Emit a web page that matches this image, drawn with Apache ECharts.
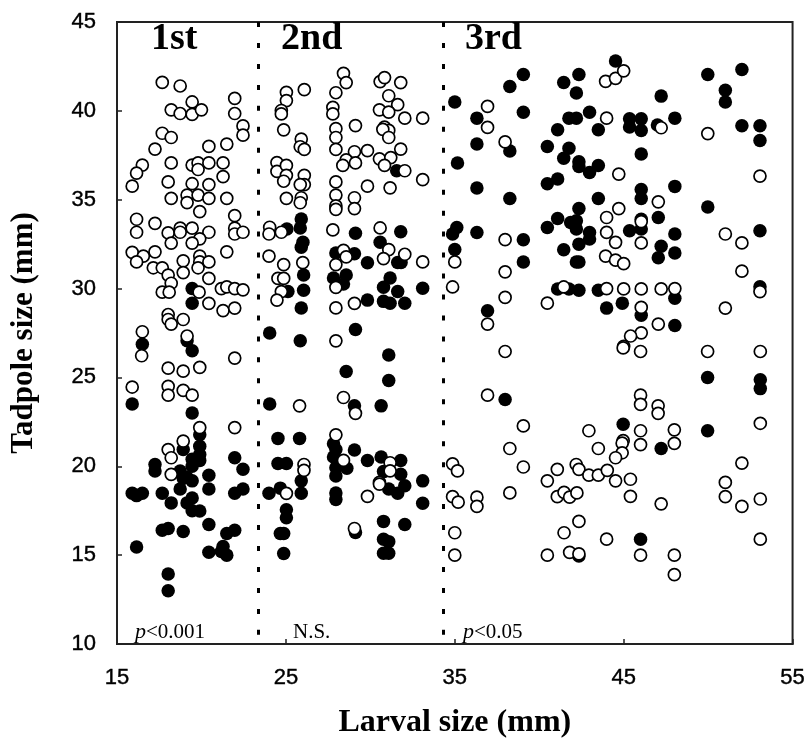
<!DOCTYPE html>
<html><head><meta charset="utf-8">
<style>html,body{margin:0;padding:0;background:#fff}#c{width:808px;height:744px}</style>
<script src="https://cdn.jsdelivr.net/npm/echarts@6/dist/echarts.min.js"></script>
</head><body><div id="c"></div>
<script>
const xTicks = [15,25,35,45,55];
const yTicks = [10,15,20,25,30,35,40,45];
const stageBoundaries = [23.39, 34.3];
const stageNames = ['1st','2nd','3rd'];
const pValues = ['<0.001','N.S.','<0.05'];

const openFirst = [[17.68,41.6],[18.74,41.4],[19.45,40.5],[21.97,40.7],[18.21,40.06],[18.74,39.85],[19.45,39.8],[20,40.06],[21.97,39.85],[22.46,39.15],[22.46,38.63],[17.68,38.74],[18.21,38.5],[17.25,37.85],[20.44,38],[21.5,38.13],[16.5,36.95],[16.16,36.5],[15.9,35.76],[18.21,37.07],[19.45,36.95],[19.8,37.07],[20.44,37.07],[21.28,37.07],[19.8,36.7],[21.28,36.3],[18.03,36],[19.45,35.9],[20.44,35.85],[18.21,35.08],[19.15,35.26],[19.15,34.84],[19.8,35.26],[20.44,35.08],[21.5,35.08],[19.9,34.33],[21.97,34.1],[16.16,33.9],[16.16,33.17],[17.25,33.67],[18.03,33.13],[18.74,33.4],[18.74,33.17],[19.45,33.4],[20.44,33.17],[21.97,33.4],[21.97,33.07],[22.46,33.17],[18.21,32.56],[19.9,32.8],[19.45,32.56],[15.9,32.04],[16.56,31.83],[16.16,31.5],[17.25,32.07],[21.5,32.07],[19.9,31.83],[19.9,31.5],[20.44,31.5],[19.8,31.17],[18.92,31.56],[18.92,30.9],[17.15,31.17],[17.68,31.17],[18.03,30.76],[18.21,30.3],[20.44,30.57],[17.68,29.8],[18.09,29.8],[19.86,29.8],[21.18,30],[21.5,30.1],[21.97,30],[22.46,29.93],[20.44,29.17],[21.28,28.76],[21.97,28.9],[18.03,28.54],[18.03,28.26],[18.21,28],[18.92,28.26],[16.5,27.57],[19.15,27.33],[16.46,26.22],[21.97,26.09],[18.03,25.52],[18.92,25.35],[19.9,25.57],[15.9,24.46],[18.03,24.5],[18.03,24],[18.92,24.27],[19.45,24],[19.9,22.18],[21.97,22.18],[18.92,21.42],[18.03,20.94],[18.21,20.48],[18.21,19.55]];
const filledFirst = [[19.45,30],[19.45,29.17],[16.5,26.87],[19.15,27.06],[19.45,26.5],[15.9,23.5],[19.45,23],[19.9,21.77],[18.92,20.94],[19.9,21.13],[19.45,20.39],[19.9,20.33],[19.45,20],[19.9,20.66],[21.97,20.48],[22.46,19.83],[17.25,20.1],[17.25,19.74],[18.74,19.74],[18.92,19.33],[19.45,19.18],[18.74,18.72],[19.15,19.37],[20.44,19.5],[20.44,18.72],[15.9,18.48],[16.16,18.35],[16.5,18.48],[17.68,18.48],[21.97,18.48],[22.46,18.72],[18.21,17.94],[19.45,18.22],[19.15,17.94],[19.45,17.5],[19.9,17.48],[20.44,16.72],[17.68,16.4],[18.03,16.5],[18.92,16.33],[21.5,16.22],[21.97,16.4],[16.16,15.46],[20.44,15.16],[21.28,15.48],[21.5,15],[21.18,15.2],[18.03,13.94],[18.03,13]];
const openSecond = [[25.03,41.04],[25.03,40.58],[26.09,41.19],[24.73,40.02],[24.73,39.83],[24.87,38.93],[25.91,38.41],[25.85,37.98],[26.09,37.83],[24.47,37.09],[24.47,36.59],[25.03,36.93],[25.03,36.37],[24.87,36.04],[26.09,36.37],[26.09,35.85],[25.85,35.85],[25.03,35.08],[25.91,35.11],[25.85,34.83],[24.04,33.45],[24,33.07],[24.73,33.17],[24,31.83],[24.87,31.35],[26,31.46],[24.53,30.57],[24.87,30.57],[24.73,29.83],[24.47,29.35],[28.41,42.11],[28.57,41.59],[27.96,41.02],[27.78,40.2],[27.78,39.83],[29.12,39.17],[27.96,39],[27.96,38.5],[27.96,37.83],[29.06,37.7],[29.83,37.76],[28.57,37.24],[28.37,36.93],[29.12,37.07],[27.96,36],[29.83,35.76],[27.96,35.26],[27.96,34.65],[27.96,34.46],[29.06,35.11],[29.06,34.5],[27.78,33.3],[27.96,31.35],[28.41,32.15],[28.57,31.78],[27.96,30.07],[27.96,28.91],[29.06,29.17],[27.96,27.06],[30.58,41.65],[30.84,41.87],[31.8,41.59],[31.09,40.85],[31.62,40.35],[30.54,40.06],[31.09,39.93],[32.04,39.59],[33.1,39.59],[30.84,39.09],[31.09,38.9],[30.74,38.96],[31.09,38.5],[31.8,37.85],[30.54,37.3],[31.21,37.37],[30.84,36.93],[32.04,36.63],[33.1,36.13],[31.17,35.67],[30.58,33.41],[31.09,32.19],[30.78,31.69],[32.04,31.93],[33.1,31.5],[25.81,23.4],[28.41,23.87],[29.12,22.98],[27.96,21.77],[28.41,20.33],[26.07,20.1],[26.07,19.77],[25.03,18.48],[31.17,20.2],[31.17,19.74],[30.54,19.09],[30.54,19],[29.83,18.31],[29.06,16.5]];
const filledSecond = [[25.91,33.91],[25.85,33.41],[25.06,33.35],[26.01,32.61],[25.91,32.33],[29.12,33.11],[31.8,33.2],[30.58,32.61],[27.96,32],[29.06,31.96],[29.83,31.45],[31.62,31.47],[31.82,31.47],[26.05,30.76],[28.57,30.76],[27.82,30.6],[28.41,30.26],[31.17,30.6],[26.05,29.9],[25.12,29.83],[30.78,30.07],[31.62,29.83],[33.1,30.02],[29.83,29.35],[30.78,29.28],[31.17,29.17],[32.04,29.17],[25.91,28.91],[31.56,36.63],[24.04,27.5],[25.85,27.06],[29.12,27.7],[31.09,26.26],[28.57,25.33],[31.09,24.83],[24.04,23.5],[29.06,23.4],[30.64,23.4],[24.53,21.57],[25.81,21.57],[27.82,21.27],[29.06,20.92],[27.82,20.52],[27.96,20.94],[24.53,20.16],[25.03,20.16],[29.83,20.33],[30.64,20.52],[31.8,20.33],[27.96,19.92],[28.61,19.89],[27.96,19.46],[30.78,19.7],[31.8,19.55],[25.91,19.18],[33.1,19.18],[32.04,18.9],[24,18.48],[24.67,18.77],[25.91,18.48],[31.09,18.72],[31.62,18.48],[27.96,18.5],[27.96,18.13],[33.1,17.92],[25.03,17.55],[25.03,17.1],[30.78,16.9],[32.04,16.72],[24.67,16.22],[24.87,16.22],[29.12,16.27],[30.78,15.9],[31.09,15.76],[30.78,15.11],[31.09,15.11],[24.87,15.09]];
const openThird = [[36.94,40.25],[36.94,39.07],[37.98,38.25],[37.98,32.75],[35,31.5],[37.98,30.94],[34.87,30.09],[37.98,29.5],[36.94,28],[43.93,41.66],[44.52,41.83],[43.99,39.59],[44.71,36.44],[44.71,34.5],[43.99,34],[43.99,33.16],[44.52,32.6],[43.93,31.83],[44.52,31.6],[41.45,30.09],[43.99,30],[40.48,29.18],[45,42.25],[47.22,39.05],[49.98,38.72],[53.07,36.33],[47.05,34.88],[46.04,33.77],[46.04,32.57],[51.02,33.07],[52,32.57],[52,30.98],[45,31.4],[45,29.98],[46.04,29.98],[47.22,29.98],[48.03,30],[53.07,29.83],[46.04,28.94],[51.02,28.9],[47.05,28],[46.04,27.51],[45.41,27.33],[45,26.75],[37.98,26.46],[44.97,26.66],[46,26.46],[49.97,26.46],[53.09,26.46],[36.94,24],[46,24],[46,23.48],[47.04,23.4],[47.04,22.98],[39.06,22.27],[53.09,22.42],[42.94,22],[46,22],[48,22.05],[38.26,21],[43.5,21],[46,21.22],[48,21.29],[44.97,21.44],[44.91,21.3],[44.91,20.76],[44.52,20.48],[52,20.18],[34.87,20.14],[35.16,19.74],[39.06,19.96],[42.19,20.1],[42.35,19.83],[41.07,19.83],[42.94,19.5],[43.5,19.5],[44.03,19.77],[40.48,19.18],[44.52,19.18],[45.4,19.27],[51.02,19.09],[34.87,18.29],[35.2,17.98],[36.31,18.26],[36.31,17.74],[38.26,18.5],[41.07,18.29],[41.47,18.53],[41.8,18.26],[42.23,18.5],[45.4,18.31],[47.22,17.89],[51.02,18.29],[52,17.74],[53.09,18.16],[42.35,16.9],[41.47,16.26],[35,16.26],[43.99,15.9],[53.09,15.9],[35,15],[40.48,15],[41.8,15.16],[42.35,15.07],[46,15],[48,15],[48,13.9]];
const filledThird = [[35,40.5],[39.06,42.05],[38.26,41.37],[36.31,39.59],[39.06,39.92],[36.31,38.13],[38.26,37.74],[35.16,37.07],[36.31,35.66],[38.26,35.07],[35.12,33.44],[34.87,33.07],[36.31,33.16],[35,32.2],[39.06,32.75],[39.06,31.5],[36.94,28.75],[41.45,41.6],[42.35,42.05],[42.2,41],[44.52,42.8],[41.76,39.59],[42.2,39.59],[42.98,39.92],[41.09,38.94],[43.5,38.94],[40.48,38],[41.76,37.9],[41.45,37.33],[42.35,37.14],[42.35,36.87],[43.5,36.92],[42.98,36.53],[40.48,35.9],[41.09,36.16],[43.5,35.07],[42.35,34.5],[41.09,33.94],[40.48,33.44],[41.86,33.72],[42.2,33.81],[42.2,33.35],[42.35,32.5],[42.98,33.16],[42.98,32.79],[41.45,32.18],[42.2,31.5],[42.35,31.5],[41.09,29.98],[41.76,29.98],[42.35,29.9],[43.5,29.9],[43.99,28.9],[44.92,29.18],[47.22,40.83],[45.35,39.55],[46.04,39.55],[48.03,39.59],[45.35,39.09],[46.04,38.9],[47,39.2],[46.04,37.57],[48.03,35.75],[46.04,35.57],[46.04,35.07],[47.05,34],[45.35,33.25],[46.04,33.35],[48.03,33.07],[47.22,32.38],[47.05,31.74],[48.03,32],[46.04,28.5],[48.03,29.46],[48.03,27.92],[46.04,33.9],[49.98,42.05],[52,42.33],[51.02,41.16],[51.02,40.5],[52,39.16],[53.07,39.16],[53.07,38.33],[49.98,34.59],[53.07,33.25],[53.07,30.1],[37.98,23.76],[49.97,25],[53.09,24.87],[53.09,24.37],[44.97,22.37],[49.97,22],[47.22,21],[46,15.9],[42.35,14.95]];

const G = {left:117, top:22, width:677, height:630};
const sans = '"Liberation Sans", Arial, sans-serif';
const serif = '"Liberation Serif", "Times New Roman", serif';
const INK = '#000';

function scatter(name, data, open){
  return {
    name, type:'scatter', data, symbol:'circle', symbolSize: open ? 12 : 13.5,
    z: open ? 4 : 3, silent:true,
    itemStyle: open ? {color:'#fff', borderColor:INK, borderWidth:1.7, opacity:1} : {color:INK, borderWidth:0, opacity:1}
  };
}
const option = {
  animation:false, backgroundColor:'#fff',
  grid:{left:G.left, top:G.top, width:G.width, height:G.height, show:true, backgroundColor:'transparent', borderColor:'#222', borderWidth:2},
  xAxis:{type:'value', min:15, max:55, interval:10, splitLine:{show:false},
    axisLine:{show:true,onZero:false,lineStyle:{color:'#222',width:2}},
    axisTick:{show:true,inside:true,length:5,lineStyle:{color:'#222',width:1.5}},
    axisLabel:{margin:23,color:INK,fontFamily:sans,fontSize:22,textBorderColor:INK,textBorderWidth:0.4,formatter:v=>xTicks.includes(v)?String(v):''},
    name:'Larval size (mm)', nameLocation:'middle', nameGap:79,
    nameTextStyle:{fontFamily:serif,fontWeight:'bold',fontSize:32,color:INK,verticalAlign:'middle'}},
  yAxis:{type:'value', min:10, max:45, interval:5, splitLine:{show:false},
    axisLine:{show:true,onZero:false,lineStyle:{color:'#222',width:2}},
    axisTick:{show:true,inside:true,length:5,lineStyle:{color:'#222',width:1.5}},
    axisLabel:{margin:21,color:INK,fontFamily:sans,fontSize:22,textBorderColor:INK,textBorderWidth:0.4,formatter:v=>yTicks.includes(v)?String(v):''},
    name:'Tadpole size (mm)', nameLocation:'middle', nameGap:93, nameRotate:90,
    nameTextStyle:{fontFamily:serif,fontWeight:'bold',fontSize:31,color:INK,verticalAlign:'middle'}},
  series:[
    scatter('filled 1st',filledFirst,false), scatter('filled 2nd',filledSecond,false), scatter('filled 3rd',filledThird,false),
    scatter('open 1st',openFirst,true), scatter('open 2nd',openSecond,true), scatter('open 3rd',openThird,true),
    {type:'scatter', data:[], markLine:{silent:true, symbol:'none', label:{show:false}, z:2,
      lineStyle:{color:INK,width:3,type:[5,15.96]},
      data:stageBoundaries.map(v=>[{coord:[v,45]},{coord:[v,10]}])}}
  ],
  graphic:[
    {type:'text',left:151,top:20,style:{text:stageNames[0],font:'bold 38px '+serif,fill:INK}},
    {type:'text',left:281,top:20,style:{text:stageNames[1],font:'bold 38px '+serif,fill:INK}},
    {type:'text',left:465,top:20,style:{text:stageNames[2],font:'bold 38px '+serif,fill:INK}},
    {type:'text',left:135,top:621,style:{rich:{i:{font:'italic 22px '+serif,fill:INK},n:{font:'21px '+serif,fill:INK}},text:'{i|p}{n|'+pValues[0]+'}'}},
    {type:'text',left:293,top:622,style:{text:pValues[1],font:'21px '+serif,fill:INK}},
    {type:'text',left:463,top:621,style:{rich:{i:{font:'italic 22px '+serif,fill:INK},n:{font:'21px '+serif,fill:INK}},text:'{i|p}{n|'+pValues[2]+'}'}}
  ]
};
echarts.init(document.getElementById('c'),null,{renderer:'canvas'}).setOption(option);
</script></body></html>
